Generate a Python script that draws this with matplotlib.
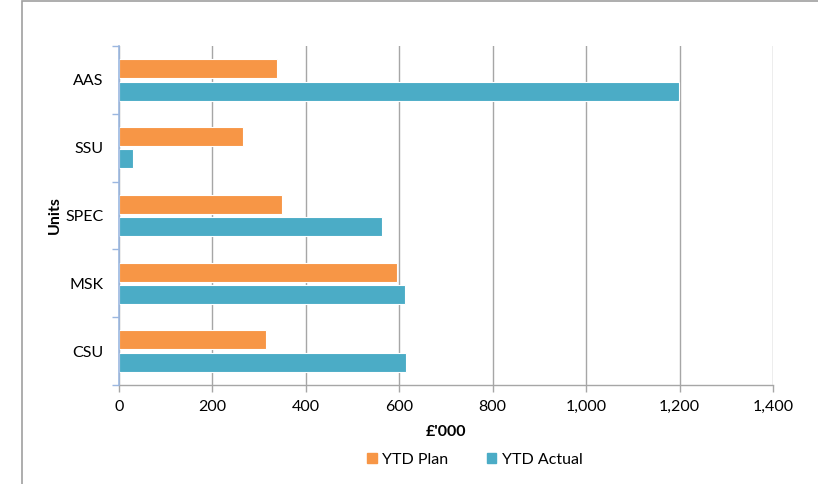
import matplotlib
matplotlib.use("Agg")
import matplotlib.pyplot as plt
import matplotlib.patches as mpatches
import numpy as np

plt.rcParams['font.family'] = ['Lato', 'DejaVu Sans']

categories = ["CSU", "MSK", "SPEC", "SSU", "AAS"]
ytd_plan = [315, 595, 349, 265, 338]
ytd_actual = [615, 612, 563, 30, 1199]
x_ticks = [0, 200, 400, 600, 800, 1000, 1200, 1400]
x_tick_labels = ["0", "200", "400", "600", "800", "1,000", "1,200", "1,400"]

orange = "#F79646"
blue = "#4BACC6"
grid_c = "#A6A6A6"

fig = plt.figure(figsize=(8.18, 4.84), dpi=100)
ax = fig.add_axes([119/818, 1-385/484, (773-119)/818, (385-46)/484])

y = np.arange(len(categories))
h = 0.28
ax.barh(y + 0.165, ytd_plan, height=h, color=orange, edgecolor="white", linewidth=0.8, label="YTD Plan", zorder=3)
ax.barh(y - 0.165, ytd_actual, height=h, color=blue, edgecolor="white", linewidth=0.8, label="YTD Actual", zorder=3)

ax.set_xlim(0, 1400)
ax.set_ylim(-0.5, len(categories) - 0.5)
ax.set_xticks(x_ticks)
ax.set_xticklabels(x_tick_labels, fontsize=11.5)
ax.set_yticks(y)
ax.set_yticklabels(categories, fontsize=11.5)
ax.set_yticks(np.arange(-0.5, len(categories)), minor=True)
ax.tick_params(axis='y', which='major', length=0, pad=11)
ax.tick_params(axis='y', which='minor', length=5, color="#9BB7E0", width=1)
ax.tick_params(axis='x', which='major', length=5, color=grid_c, width=1, pad=6)

ax.grid(axis='x', color=grid_c, linewidth=1, zorder=0)
for s in ["top", "right"]:
    ax.spines[s].set_visible(False)
ax.spines["left"].set_color("#9BB7E0")
ax.spines["left"].set_linewidth(1.2)
ax.spines["left"].set_zorder(4)
ax.spines["bottom"].set_color(grid_c)
ax.spines["bottom"].set_linewidth(1)

ax.set_xlabel("£'000", fontsize=11.5, fontweight="bold", labelpad=8)
ax.set_ylabel("Units", fontsize=11.5, fontweight="bold")
ax.yaxis.set_label_coords(-0.088, 0.5)

handles = [mpatches.Patch(color=orange, label="YTD Plan"), mpatches.Patch(color=blue, label="YTD Actual")]
fig.legend(handles=handles, loc="center", bbox_to_anchor=(475/818, 1-460/484), ncol=2, frameon=False,
           fontsize=11.5, handlelength=0.6, handleheight=0.6, columnspacing=2.4, handletextpad=0.35)

frame = mpatches.Rectangle((22/818, -0.1), 1.0, 1.1 - 1.5/484, transform=fig.transFigure,
                           fill=False, edgecolor="#A0A0A0", linewidth=1.2)
fig.patches.append(frame)

fig.savefig("out.png", dpi=100)
